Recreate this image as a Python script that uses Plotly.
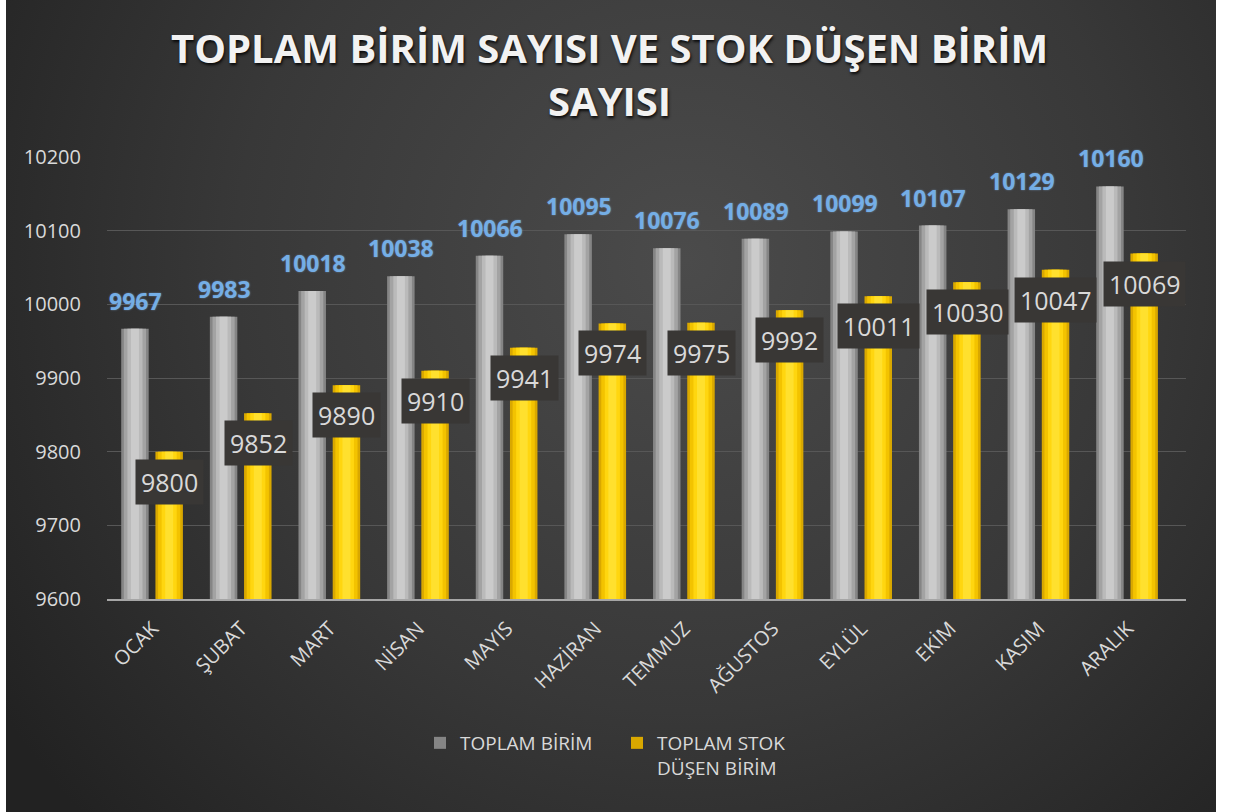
import base64
import plotly.graph_objects as go

months = ["OCAK", "ŞUBAT", "MART", "NİSAN", "MAYIS", "HAZİRAN", "TEMMUZ",
          "AĞUSTOS", "EYLÜL", "EKİM", "KASIM", "ARALIK"]
toplam_birim = [9967, 9983, 10018, 10038, 10066, 10095, 10076, 10089, 10099, 10107, 10129, 10160]
stok_dusen = [9800, 9852, 9890, 9910, 9941, 9974, 9975, 9992, 10011, 10030, 10047, 10069]
y_ticks = [9600, 9700, 9800, 9900, 10000, 10100, 10200]

FONT = "Open Sans"
TXT = "#d9d9d9"

fig = go.Figure()

gray_layers = [("#858585", 0.31), ("#a3a3a3", 0.25), ("#bababa", 0.17), ("#cbcbcb", 0.09)]
yellow_layers = [("#d9a800", 0.31), ("#f3c300", 0.25), ("#ffd60f", 0.17), ("#ffe02e", 0.09)]
g_center = -0.198
y_center = 0.188

for i, (col, w) in enumerate(gray_layers):
    fig.add_trace(go.Bar(
        x=months, y=toplam_birim, name="TOPLAM BİRİM",
        marker=dict(color=col, line=dict(width=0)),
        width=w, offset=g_center - w / 2,
        showlegend=(i == 0), legendgroup="g", hoverinfo="skip"))
for i, (col, w) in enumerate(yellow_layers):
    fig.add_trace(go.Bar(
        x=months, y=stok_dusen, name="TOPLAM STOK<br>DÜŞEN BİRİM",
        marker=dict(color=col, line=dict(width=0)),
        width=w, offset=y_center - w / 2,
        showlegend=(i == 0), legendgroup="y", hoverinfo="skip"))

annotations = []
for m, v in zip(months, toplam_birim):
    annotations.append(dict(
        x=m, y=v, xref="x", yref="y", text=f"<b>{v}</b>", showarrow=False,
        xshift=-17, yshift=28, yanchor="middle", xanchor="center",
        font=dict(family=FONT, size=23, color="#74aee6",
                  shadow="0px 0px 2px rgba(150,200,255,0.5)")))
for m, v in zip(months, stok_dusen):
    annotations.append(dict(
        x=m, y=v, xref="x", yref="y", text=str(v), showarrow=False,
        xshift=17, yshift=-30, yanchor="middle", xanchor="center",
        bgcolor="#393735", borderpad=5,
        font=dict(family=FONT, size=25, color=TXT)))

L, R, T, B = 107, 49, 157, 213
PW, PH = 1235 - L - R, 812 - T - B

title_font = dict(family=FONT, size=40, color="#f2f2f2", shadow="1px 2px 3px rgba(0,0,0,0.85)")
annotations.append(dict(
    xref="paper", yref="paper", x=(609 - L) / PW, y=(T + PH - 47) / PH,
    xanchor="center", yanchor="middle",
    text="<b>TOPLAM BİRİM SAYISI VE STOK DÜŞEN BİRİM</b>", showarrow=False, font=title_font))
annotations.append(dict(
    xref="paper", yref="paper", x=(609 - L) / PW, y=(T + PH - 100) / PH,
    xanchor="center", yanchor="middle",
    text="<b>SAYISI</b>", showarrow=False, font=title_font))

svg = ("<svg xmlns='http://www.w3.org/2000/svg' width='1210' height='812' preserveAspectRatio='none' "
       "viewBox='0 0 1210 812'><defs><radialGradient id='g' gradientUnits='userSpaceOnUse' "
       "cx='680' cy='260' r='820'><stop offset='0' stop-color='#4b4b4b'/>"
       "<stop offset='0.55' stop-color='#383838'/><stop offset='1' stop-color='#222222'/>"
       "</radialGradient></defs><rect width='1210' height='812' fill='url(#g)'/></svg>")
src = "data:image/svg+xml;base64," + base64.b64encode(svg.encode()).decode()

fig.update_layout(
    width=1235, height=812,
    margin=dict(l=L, r=R, t=T, b=B, pad=0),
    paper_bgcolor="white", plot_bgcolor="rgba(0,0,0,0)",
    barmode="overlay",
    images=[dict(source=src, xref="paper", yref="paper",
                 x=(6 - L) / PW, y=1 + T / PH,
                 sizex=1210 / PW, sizey=812 / PH,
                 sizing="stretch", xanchor="left", yanchor="top", layer="below")],
    annotations=annotations,
    showlegend=True,
    legend=dict(orientation="h", x=(420 - L) / PW, xanchor="left",
                y=(T + PH - 724) / PH, yanchor="top",
                font=dict(family=FONT, size=19, color=TXT), valign="top",
                itemwidth=30, entrywidth=152,
                bgcolor="rgba(0,0,0,0)", traceorder="normal"),
    xaxis=dict(tickangle=-45, tickfont=dict(family=FONT, size=20, color=TXT),
               showgrid=False, showline=True, linecolor="#a6a6a6", linewidth=2,
               ticks="outside", ticklen=8, tickcolor="rgba(0,0,0,0)", fixedrange=True),
    yaxis=dict(range=[9600, 10200], tickvals=y_ticks, ticktext=[str(t) for t in y_ticks],
               tickfont=dict(family=FONT, size=20, color=TXT),
               showgrid=True, gridcolor="#575757", gridwidth=1, zeroline=False,
               showline=False, ticks="outside", ticklen=21, tickcolor="rgba(0,0,0,0)"),
    font=dict(family=FONT, color=TXT),
)

fig.write_html("out.html", config={"displayModeBar": False},
               post_script="document.body.style.margin='0';document.body.style.padding='0';")
